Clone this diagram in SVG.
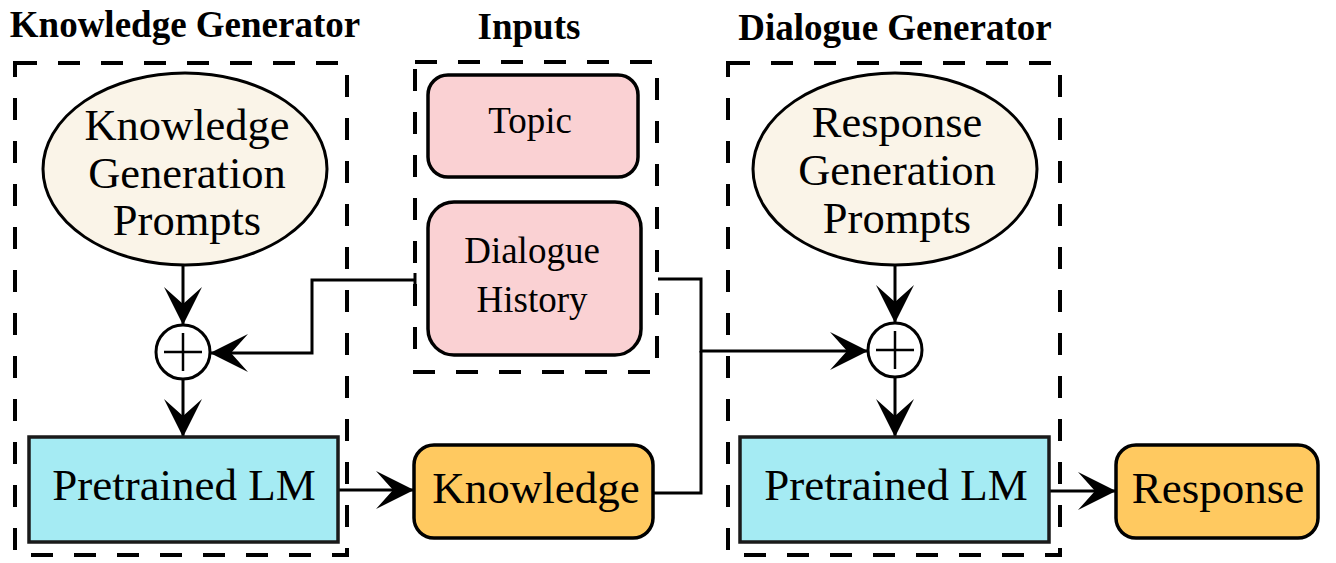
<svg xmlns="http://www.w3.org/2000/svg" width="1336" height="563" viewBox="0 0 1336 563">
<style>
.title{font-family:"Liberation Serif","Times New Roman",serif;font-weight:bold;font-size:37px;fill:#000;text-anchor:middle}
.lbl{font-family:"Liberation Serif","Times New Roman",serif;fill:#000;text-anchor:middle}
.big{font-size:45px}
.mid{font-size:44.5px}
.sm{font-size:37px}
.dash{fill:none;stroke:#000;stroke-width:4;stroke-dasharray:22 21}
.ell{fill:#FAF4E8;stroke:#000;stroke-width:3}
.pink{fill:#FAD1D3;stroke:#000;stroke-width:3.5}
.cyan{fill:#A5EBF3;stroke:#1a1a1a;stroke-width:3.5}
.orange{fill:#FFC960;stroke:#000;stroke-width:3.5}
.plus{fill:#fff;stroke:#000;stroke-width:3}
.pl{stroke:#000;stroke-width:2.5}
.edge{fill:none;stroke:#000;stroke-width:3}
</style>
<defs>
<marker id="arr" viewBox="-39 -20 40 40" markerWidth="40" markerHeight="40" refX="0" refY="0" orient="auto" markerUnits="userSpaceOnUse">
<path d="M0,0 L-38,-19 L-21,0 L-38,19 Z" fill="#000"/>
</marker>
</defs>
<rect width="1336" height="563" fill="#fff"/>

<g id="titles">
<text class="title" x="185" y="37">Knowledge Generator</text>
<text class="title" x="529" y="39">Inputs</text>
<text class="title" x="895" y="40">Dialogue Generator</text>
</g>

<g id="groups">
<rect class="dash" x="15" y="63" width="332" height="492"/>
<rect class="dash" x="415" y="62" width="242" height="310"/>
<rect class="dash" x="728" y="63" width="332" height="492"/>
</g>

<g id="connectors">
<line class="edge" x1="183" y1="265" x2="183" y2="325" marker-end="url(#arr)"/>
<line class="edge" x1="183" y1="379" x2="183" y2="437" marker-end="url(#arr)"/>
<path class="edge" d="M415,280 H312 V353 H210" marker-end="url(#arr)"/>
<line class="edge" x1="415" y1="273" x2="415" y2="287"/>
<path class="edge" d="M658,279 H701 V351 H868" marker-end="url(#arr)"/>
<path class="edge" d="M653,493 H701 V351"/>
<line class="edge" x1="895" y1="265" x2="895" y2="323" marker-end="url(#arr)"/>
<line class="edge" x1="895" y1="377" x2="895" y2="437" marker-end="url(#arr)"/>
<line class="edge" x1="338" y1="490" x2="414" y2="490" marker-end="url(#arr)"/>
<line class="edge" x1="1049" y1="491" x2="1116" y2="491" marker-end="url(#arr)"/>
</g>

<g id="kg-prompts">
<ellipse class="ell" cx="185" cy="169" rx="142" ry="96"/>
<text class="lbl mid" x="187" y="140">Knowledge</text>
<text class="lbl mid" x="187" y="188">Generation</text>
<text class="lbl mid" x="187" y="235">Prompts</text>
</g>

<g id="plus1">
<circle class="plus" cx="183" cy="352" r="27"/>
<line class="pl" x1="164" y1="352" x2="202" y2="352"/>
<line class="pl" x1="183" y1="333" x2="183" y2="371"/>
</g>

<g id="plm1">
<rect class="cyan" x="29" y="437" width="309" height="105"/>
<text class="lbl big" x="184" y="500">Pretrained LM</text>
</g>

<g id="topic">
<rect class="pink" x="428" y="75" width="210" height="102" rx="20"/>
<text class="lbl sm" x="530" y="133">Topic</text>
</g>

<g id="history">
<rect class="pink" x="428" y="202" width="213" height="153" rx="26"/>
<text class="lbl sm" x="532" y="263">Dialogue</text>
<text class="lbl sm" x="532" y="312">History</text>
</g>

<g id="knowledge">
<rect class="orange" x="414" y="445" width="239" height="93" rx="20"/>
<text class="lbl big" x="536" y="503">Knowledge</text>
</g>

<g id="rg-prompts">
<ellipse class="ell" cx="895" cy="169" rx="142" ry="96"/>
<text class="lbl mid" x="897" y="137">Response</text>
<text class="lbl mid" x="897" y="185">Generation</text>
<text class="lbl mid" x="897" y="233">Prompts</text>
</g>

<g id="plus2">
<circle class="plus" cx="895" cy="350" r="27"/>
<line class="pl" x1="876" y1="350" x2="914" y2="350"/>
<line class="pl" x1="895" y1="331" x2="895" y2="369"/>
</g>

<g id="plm2">
<rect class="cyan" x="740" y="437" width="309" height="105"/>
<text class="lbl big" x="896" y="500">Pretrained LM</text>
</g>

<g id="response">
<rect class="orange" x="1116" y="445" width="202" height="93" rx="20"/>
<text class="lbl big" x="1218" y="503">Response</text>
</g>
</svg>
